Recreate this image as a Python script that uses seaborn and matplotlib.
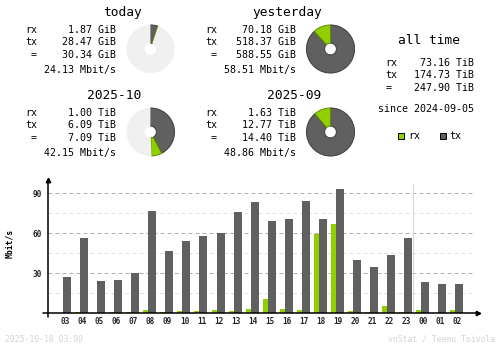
import matplotlib
matplotlib.use("Agg")
import matplotlib.pyplot as plt
from matplotlib.patches import Rectangle
import numpy as np
import pandas as pd
import seaborn as sns

# ---- hourly average traffic rate, Mbit/s ----
hours = ["03", "04", "05", "06", "07", "08", "09", "10", "11", "12", "13", "14",
         "15", "16", "17", "18", "19", "20", "21", "22", "23", "00", "01", "02"]
rx_rate = [0, 1, 0, 1, 1, 2.5, 1, 1.75, 1.75, 2.5, 1.75, 3.25,
           10.75, 3.25, 2.5, 59.5, 67, 1.75, 1, 5.5, 1, 2.5, 0, 2.5]
tx_rate = [27.25, 56.5, 24.25, 25, 30.25, 76.75, 46.75, 54.25, 58, 60.25, 76, 83.5,
           69.25, 70.75, 84.25, 70.75, 93.25, 40, 34.75, 43.75, 56.5, 23.5, 22, 22]
y_ticks = [30, 60, 90]
y_minor = [15, 45, 75]

# ---- period summaries ----
period_names = ["today", "yesterday", "2025-10", "2025-09"]
period_rx = [1.87, 70.18, 1.00, 1.63]
period_tx = [28.47, 518.37, 6.09, 12.77]
period_total = [30.34, 588.55, 7.09, 14.40]
period_unit = ["GiB", "GiB", "TiB", "TiB"]
period_rate = [24.13, 58.51, 42.15, 48.86]
# partial periods are drawn relative to the previous full period
period_ref = [1, 1, 3, 3]

alltime_rx = 73.16
alltime_tx = 174.73
alltime_total = 247.90
alltime_unit = "TiB"
since_date = "2024-09-05"
stamp = "2025-10-18 03:00"
credit = "vnStat / Teemu Toivola"

RX = "#92CF00"
TX = "#606060"
RX_EDGE = "#5E8A00"
TX_EDGE = "#3C3C3C"
EMPTY = "#F0F0F0"
LINE = "#B0B0B0"
LINE_L = "#E0E0E0"
FOOT = "#D4D4D4"

sns.set_theme(style="white")
plt.rcParams["font.family"] = ["DejaVu Sans Mono"]

W, H = 500, 348
fig = plt.figure(figsize=(W / 100, H / 100), dpi=100)
fig.patch.set_facecolor("white")

SMALL = 7.2
BIG = 9.3


def txt(x, y, s, ha="left", size=SMALL, color="black", weight="normal"):
    fig.text(x / W, 1 - y / H, s, ha=ha, va="baseline", fontsize=size,
             color=color, fontweight=weight)


def box(x0, y0, x1, y1):
    return fig.add_axes([x0 / W, 1 - y1 / H, (x1 - x0) / W, (y1 - y0) / H])


# ---- summary blocks with donuts ----
col_dx = [0, 180, 0, 180]
row_dy = [0, 0, 83, 83]
for i, name in enumerate(period_names):
    dx, dy = col_dx[i], row_dy[i]
    unit = period_unit[i]
    txt(141.7 + dx, 16 + dy, name, ha="right", size=BIG)
    rows = [("rx", f"{period_rx[i]:.2f} {unit}", 32.7),
            ("tx", f"{period_tx[i]:.2f} {unit}", 45.0),
            ("=", f"{period_total[i]:.2f} {unit}", 58.2)]
    for lab, val, yb in rows:
        txt(37 + dx, yb + dy, lab, ha="right")
        txt(115.5 + dx, yb + dy, val, ha="right")
    txt(115.5 + dx, 73 + dy, f"{period_rate[i]:.2f} Mbit/s", ha="right")

    ref = period_total[period_ref[i]]
    f_tx = period_tx[i] / ref
    f_rx = period_rx[i] / ref
    rest = max(0.0, 1.0 - f_tx - f_rx)
    cx, cy, r = 150.5 + dx, 49 + dy, 24.5
    pax = box(cx - r, cy - r, cx + r, cy + r)
    wedges, _ = pax.pie([f_tx, f_rx, rest], colors=[TX, RX, EMPTY],
                        startangle=90, counterclock=False, radius=1,
                        normalize=False,
                        wedgeprops=dict(width=0.755, linewidth=0))
    wedges[0].set_edgecolor(TX_EDGE)
    wedges[0].set_linewidth(0.7)
    wedges[1].set_edgecolor(RX_EDGE)
    wedges[1].set_linewidth(0.7)
    pax.set_xlim(-1.02, 1.02)
    pax.set_ylim(-1.02, 1.02)
    pax.set_aspect("equal")
    pax.axis("off")

# ---- all time block ----
txt(429, 44.3, "all time", ha="center", size=BIG)
for lab, val, yb in [("rx", alltime_rx, 66), ("tx", alltime_tx, 77.7),
                     ("=", alltime_total, 91)]:
    txt(385 + (1 if lab == "=" else 0), yb, lab)
    txt(474.5, yb, f"{val:.2f} {alltime_unit}", ha="right")
txt(474.5, 111.7, f"since {since_date}", ha="right")

for x0, col, edge, lab in [(398.3, RX, RX_EDGE, "rx"), (440, TX, TX_EDGE, "tx")]:
    fig.add_artist(Rectangle((x0 / W, 1 - 139.3 / H), 6 / W, 6 / H,
                             transform=fig.transFigure, facecolor=col,
                             edgecolor="black", linewidth=0.7))
    txt(x0 + 9.5, 139.3, lab)

# ---- hourly bar chart ----
SLOT = 17.06          # pixels per hour slot
X0_PX, X1_PX = 48.3, 473.0
Y0_PX, Y1_PX = 313.3, 180.0
FIRST_CENTER_PX = 65.0
ax = box(X0_PX, Y1_PX, X1_PX, Y0_PX)

df = pd.DataFrame({"slot": np.arange(len(hours)), "hour": hours,
                   "rx": rx_rate, "tx": tx_rate})
sns.barplot(x=df["slot"] - 0.264, y=df["rx"], native_scale=True,
            width=5 / SLOT, color=RX, saturation=1, errorbar=None,
            linewidth=0, ax=ax, zorder=3)
sns.barplot(x=df["slot"] + 0.117, y=df["tx"], native_scale=True,
            width=8 / SLOT, color=TX, saturation=1, errorbar=None,
            linewidth=0, ax=ax, zorder=3)

xl = (X0_PX - FIRST_CENTER_PX) / SLOT
ax.set_xlim(xl, xl + (X1_PX - X0_PX) / SLOT)
ax.set_ylim(0, 100)
ax.set_facecolor("white")
for s in ax.spines.values():
    s.set_visible(False)

ax.set_xticks(df["slot"], hours)
ax.set_yticks(y_ticks, [str(v) for v in y_ticks])
ax.set_yticks(y_minor, minor=True)
ax.tick_params(axis="x", length=0, pad=3.0, labelsize=5.6)
ax.tick_params(axis="y", which="both", length=0, pad=4.6, labelsize=5.6)
for lbl in ax.get_xticklabels() + ax.get_yticklabels():
    lbl.set_fontweight("bold")

ax.set_axisbelow(True)
ax.grid(axis="y", which="major", color=LINE, linewidth=0.72,
        linestyle=(0, (4, 3)))
ax.grid(axis="y", which="minor", color=LINE_L, linewidth=0.72,
        linestyle=(0, (4, 3)))
ax.grid(axis="x", visible=False)

# midnight separator
mid = hours.index("00") - 0.58
ax.axvline(mid, ymin=0, ymax=0.97, color="#D8D8D8", linewidth=0.8, zorder=2)

# axes with arrow heads
w_px = X1_PX - X0_PX
h_px = Y0_PX - Y1_PX
ax.plot([-5 / w_px, 1 + 5 / w_px], [0, 0], color="black", linewidth=1.1,
        transform=ax.transAxes, clip_on=False, zorder=5)
ax.plot([0, 0], [-4 / h_px, 1], color="black", linewidth=1.1,
        transform=ax.transAxes, clip_on=False, zorder=5)
ax.plot([1 + 5 / w_px], [0], marker=">", markersize=3.2, color="black",
        transform=ax.transAxes, clip_on=False, zorder=6)
ax.plot([0], [1], marker="^", markersize=3.2, color="black",
        transform=ax.transAxes, clip_on=False, zorder=6)

ax.set_xlabel("")
ax.set_ylabel("Mbit/s", fontsize=5.8, fontweight="bold", color="black")
ax.yaxis.set_label_coords((14.3 - X0_PX) / w_px, (Y0_PX - 243.3) / h_px)

# ---- footer ----
txt(5, 342, stamp, size=5.9, color=FOOT)
txt(495, 342, credit, ha="right", size=5.9, color=FOOT)

fig.savefig("out.png", dpi=100, facecolor="white")
